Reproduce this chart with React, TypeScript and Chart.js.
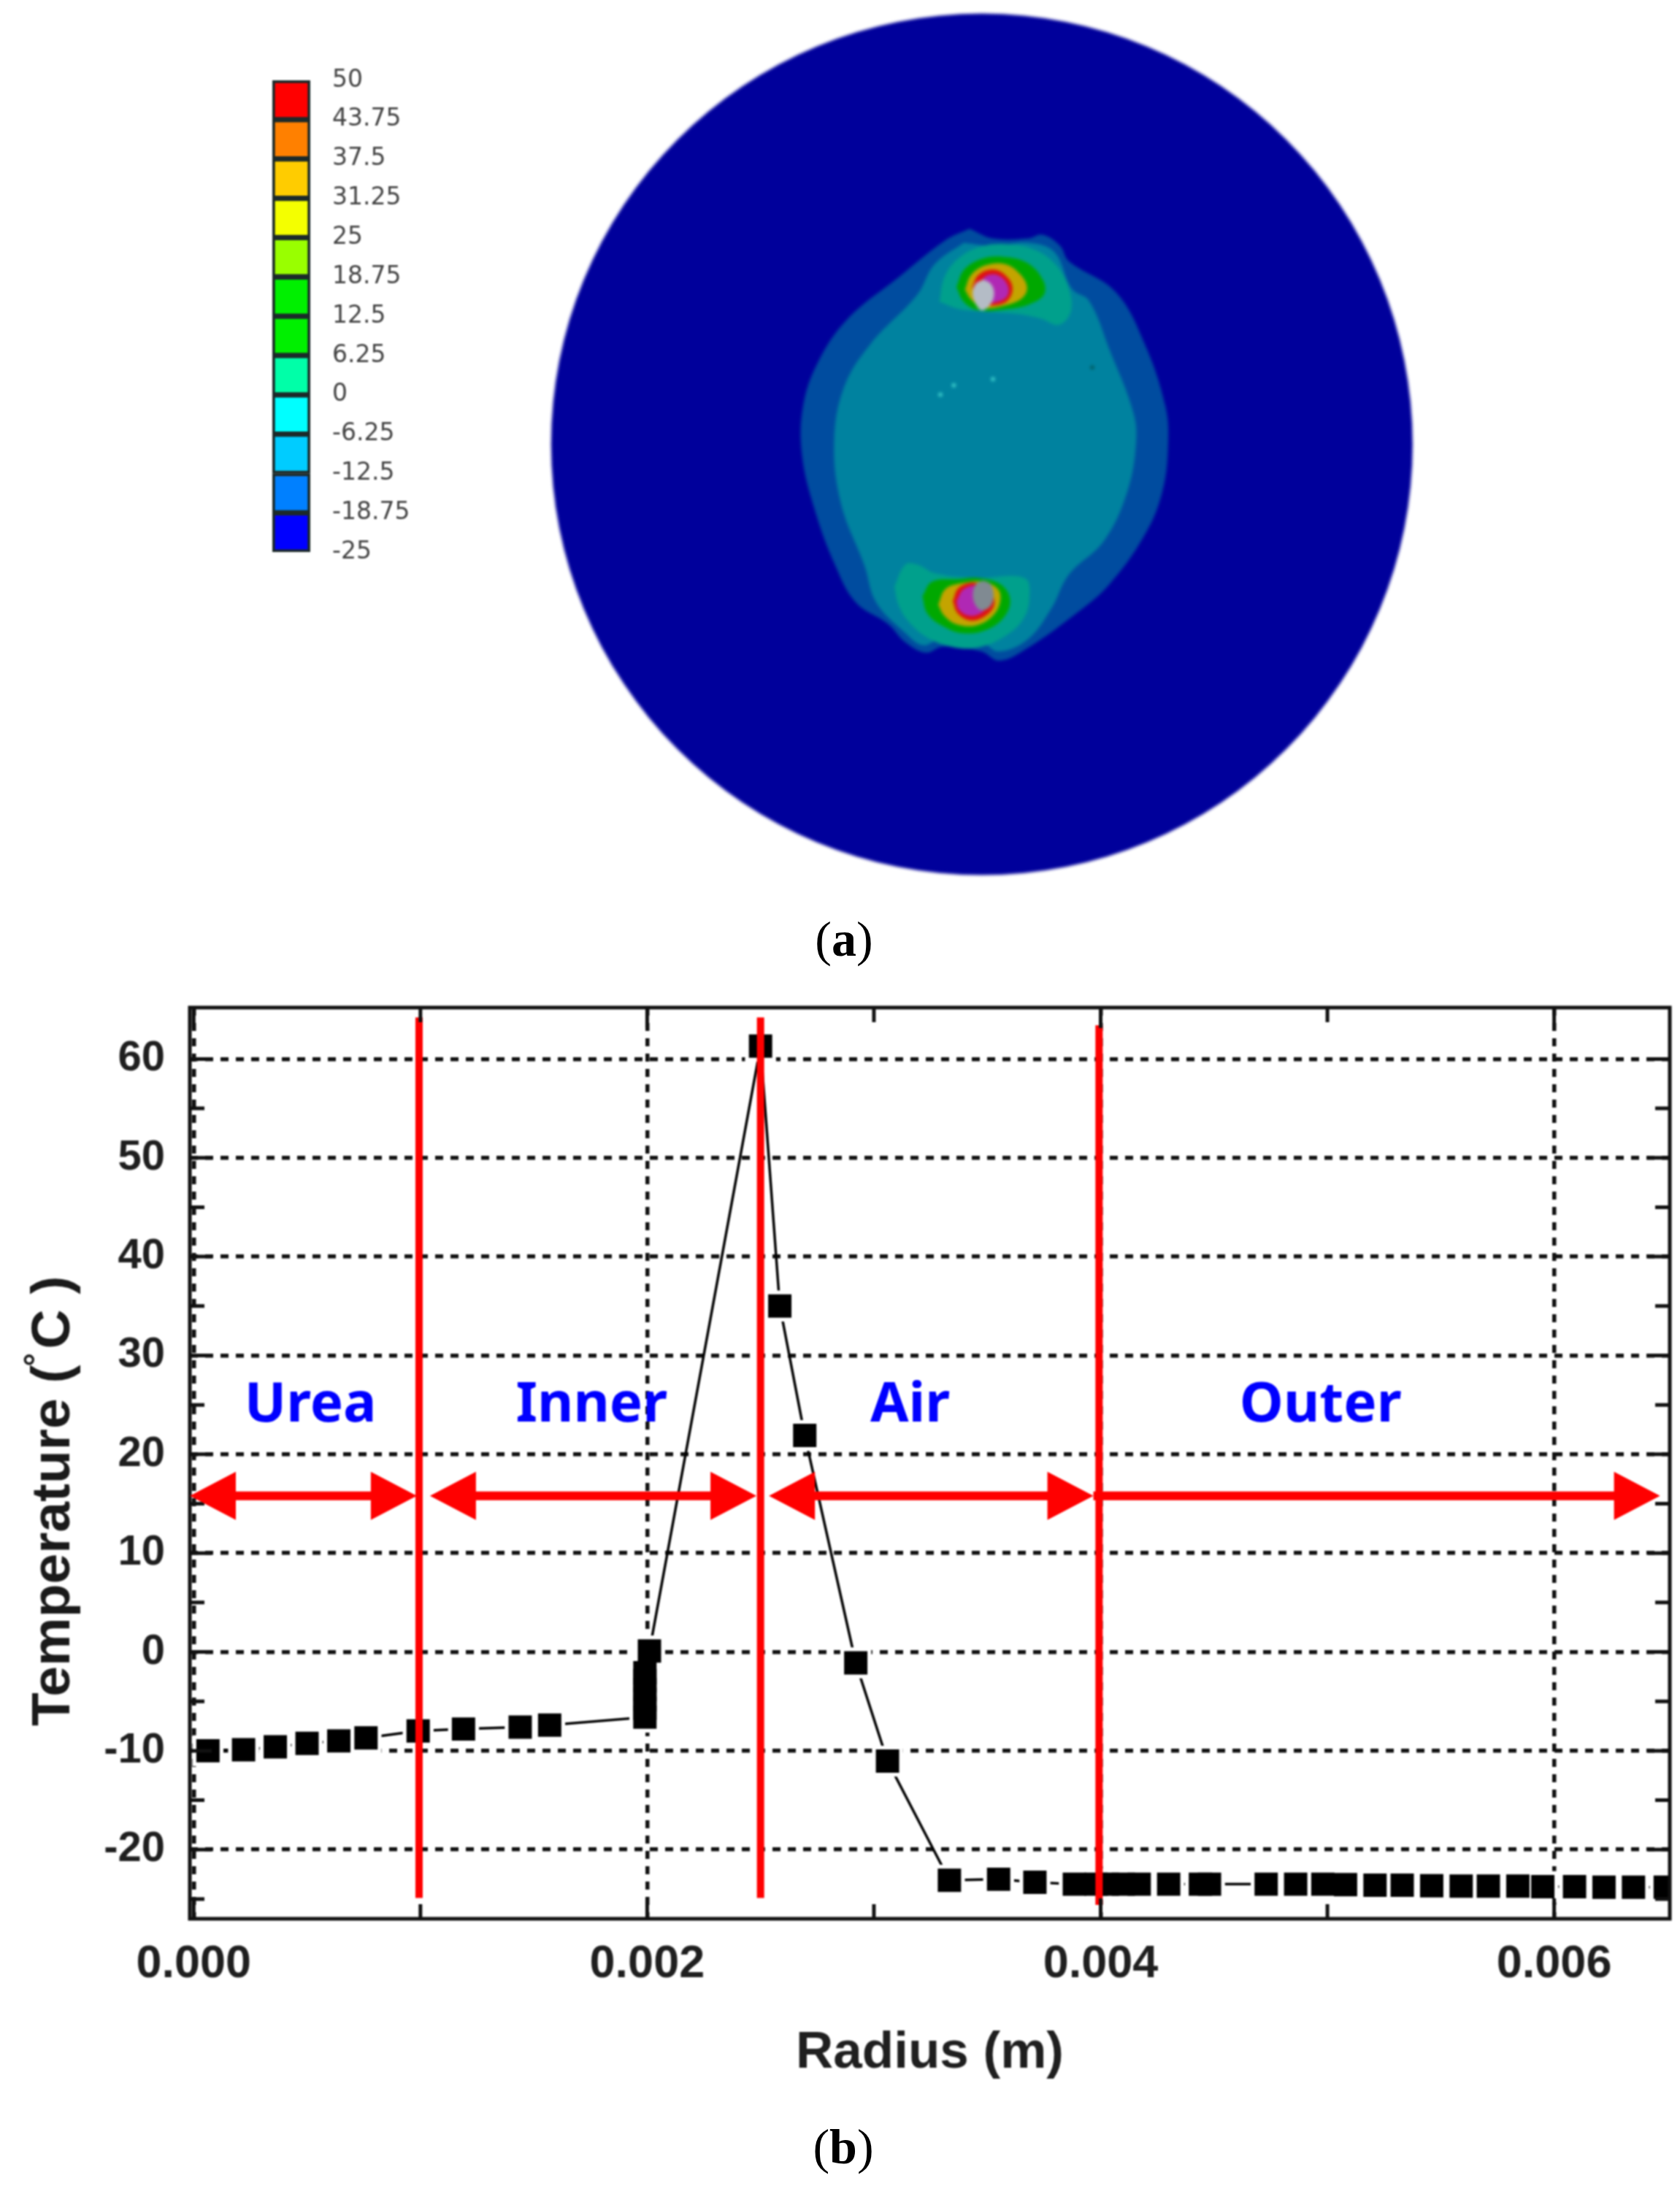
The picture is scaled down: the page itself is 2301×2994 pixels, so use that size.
import React, { useEffect, useRef } from "react";
import { Chart, registerables } from "chart.js";

Chart.register(...registerables);

// ---------- panel (b): temperature profile ----------
const radiusValues = [
  0.000063, 0.00022, 0.00036, 0.0005, 0.00064, 0.00076, 0.00099, 0.00119, 0.00144, 0.00157,
  0.00199, 0.00199, 0.00199, 0.00199, 0.00199, 0.00199, 0.00201, 0.0025, 0.002585, 0.002695,
  0.00292, 0.00306, 0.003333, 0.00355, 0.00371, 0.003884, 0.00398, 0.00403, 0.0041, 0.00417,
  0.0043, 0.00444, 0.00448, 0.00473, 0.00486, 0.00498, 0.00508, 0.00521, 0.00533, 0.00546,
  0.00559, 0.00571, 0.00584, 0.00595, 0.00609, 0.00622, 0.00635, 0.00649,
];
const temperatureValues = [
  -10, -9.9, -9.6, -9.25, -9, -8.7, -8, -7.8, -7.6, -7.4,
  -6.6, -5.7, -4.8, -3.8, -2.9, -2.1, 0.1, 61.3, 35, 21.9,
  -1.1, -11.05, -23.1, -23, -23.3, -23.5, -23.5, -23.5, -23.5, -23.5,
  -23.5, -23.5, -23.5, -23.5, -23.5, -23.5, -23.55, -23.6, -23.6, -23.65,
  -23.7, -23.7, -23.7, -23.75, -23.75, -23.8, -23.8, -23.8,
];
const xTickValues = [0, 0.001, 0.002, 0.003, 0.004, 0.005, 0.006];
const xLabelledTicks = [0, 0.002, 0.004, 0.006];
const yTickValues = [-25, -20, -15, -10, -5, 0, 5, 10, 15, 20, 25, 30, 35, 40, 45, 50, 55, 60];
const yLabelledTicks = [-20, -10, 0, 10, 20, 30, 40, 50, 60];
const regionNames = ["Urea", "Inner", "Air", "Outer"];
const regionNameX = [0.000515, 0.001755, 0.00316, 0.00497];
const regionNameY = 24.9;
const boundaryX = [0.000994, 0.0025, 0.003993];
const boundaryTop = [64.2, 64.2, 63.4];
const boundaryBottom = [-24.9, -24.9, -25.6];
const arrowStart = [-0.000017, 0.001042, 0.002537, 0.003968];
const arrowEnd = [0.000984, 0.002482, 0.003968, 0.006467];
const arrowHasLeftHead = [true, true, true, false];
const arrowY = 15.8;

// ---------- panel (a): legend ----------
const legendStops = [50, 43.75, 37.5, 31.25, 25, 18.75, 12.5, 6.25, 0, -6.25, -12.5, -18.75, -25];
const legendColors = [
  "#ff0000", "#ff8000", "#ffcc00", "#f4ff00", "#99ff00", "#00f000",
  "#00f000", "#00ffa8", "#00ffff", "#00ccff", "#0080ff", "#0000ff",
];

// ---------- panel (a): contour outlines ----------
const diskCentre = [781, 723];
const outerBand = [[760,372],[800,388],[860,388],[885,382],[915,400],[930,425],[1010,475],[1060,560],[1095,660],[1100,720],[1090,800],[1060,870],[1000,950],[940,1000],[850,1060],[810,1075],[780,1060],[715,1052],[685,1062],[650,1045],[620,1015],[565,980],[530,920],[495,830],[473,740],[475,660],[500,590],[550,520],[640,450],[720,390],[760,372]];
const innerCore = [[750,395],[800,400],[860,395],[905,410],[935,470],[965,490],[1000,570],[1040,670],[1045,720],[1030,800],[990,880],[930,935],[900,990],[860,1040],[810,1060],[780,1045],[710,1040],[680,1050],[650,1030],[600,980],[580,920],[540,820],[528,720],[545,630],[590,560],[670,480],[700,430],[750,395]];
const topTeal = [[320,400],[340,300],[400,220],[500,170],[620,165],[720,190],[800,250],[850,340],[860,440],[810,495],[740,470],[640,450],[500,440],[400,430],[320,400]];
const topGreen = [[390,340],[420,270],[490,225],[580,215],[680,240],[745,310],[750,370],[690,410],[600,430],[480,435],[420,400],[390,340]];
const topYellow = [[425,350],[450,290],[510,250],[590,245],[650,285],[680,340],[660,385],[590,415],[500,425],[450,390],[425,350]];
const topRed = [[455,340],[480,290],[540,268],[590,290],[620,340],[600,395],[540,415],[480,410],[455,340]];
const topMagenta = [[480,340],[510,295],[560,290],[600,330],[600,375],[560,400],[510,400],[480,340]];
const topGrey = [[500,308],[530,325],[545,365],[530,410],[495,435],[470,410],[456,365],[470,325],[500,308]];
const bottomTeal = [[135,190],[180,100],[230,100],[300,135],[470,155],[670,155],[690,240],[660,330],[580,400],[480,440],[380,440],[270,400],[190,330],[150,260],[135,190]];
const bottomGreen = [[250,230],[290,170],[400,160],[480,155],[570,180],[610,240],[590,310],[520,365],[420,382],[330,350],[270,300],[250,230]];
const bottomYellow = [[315,265],[345,200],[420,175],[500,170],[560,200],[570,250],[540,310],[470,350],[390,345],[340,310],[315,265]];
const bottomRed = [[375,250],[400,195],[470,175],[530,210],[545,265],[510,310],[450,330],[395,300],[375,250]];
const bottomMagenta = [[390,250],[420,200],[480,190],[510,270],[490,300],[440,310],[400,285],[390,250]];
const bottomGrey = [[500,165],[530,180],[543,225],[530,270],[495,288],[470,270],[457,225],[470,180],[500,165]];
const paleSpecks = [[710,642],[733,627],[800,617]];
const darkSpecks = [[970,598]];

const toXY = (pts: number[][]) => pts.map(([x, y]) => ({ x, y }));

function shape(pts: number[][], color: string, xAxisID: string, yAxisID: string) {
  return {
    data: toXY(pts),
    showLine: true,
    fill: "shape",
    tension: 0.38,
    backgroundColor: color,
    borderColor: color,
    borderWidth: 0,
    pointRadius: 0,
    xAxisID,
    yAxisID,
    clip: false,
  };
}

function hiddenAxis(min: number, max: number, reverse = false) {
  return { display: false, type: "linear", bounds: "data", min, max, reverse };
}

const frameAndNotes = {
  id: "frameAndNotes",
  afterDatasetsDraw(chart: any) {
    const { ctx, chartArea: a, scales } = chart;
    const x = scales.x;
    const y = scales.y;
    ctx.save();
    ctx.strokeStyle = "#111";
    ctx.lineWidth = 5;
    ctx.strokeRect(a.left, a.top, a.right - a.left, a.bottom - a.top);
    xTickValues.forEach((v) => {
      const p = x.getPixelForValue(v);
      const len = xLabelledTicks.includes(v) ? 28 : 20;
      ctx.beginPath();
      ctx.moveTo(p, a.bottom);
      ctx.lineTo(p, a.bottom - len);
      ctx.moveTo(p, a.top);
      ctx.lineTo(p, a.top + len);
      ctx.stroke();
    });
    yTickValues.forEach((v) => {
      const p = y.getPixelForValue(v);
      const len = yLabelledTicks.includes(v) ? 30 : 20;
      ctx.beginPath();
      ctx.moveTo(a.left, p);
      ctx.lineTo(a.left + len, p);
      ctx.moveTo(a.right, p);
      ctx.lineTo(a.right - len, p);
      ctx.stroke();
    });

    // range arrows
    const ay = y.getPixelForValue(arrowY);
    ctx.strokeStyle = "#ff0000";
    ctx.fillStyle = "#ff0000";
    ctx.lineWidth = 12;
    arrowStart.forEach((s, i) => {
      const x0 = x.getPixelForValue(s);
      const x1 = x.getPixelForValue(arrowEnd[i]);
      ctx.beginPath();
      ctx.moveTo(x0 + (arrowHasLeftHead[i] ? 30 : 0), ay);
      ctx.lineTo(x1 - 30, ay);
      ctx.stroke();
      ctx.beginPath();
      ctx.moveTo(x1, ay);
      ctx.lineTo(x1 - 63, ay - 33);
      ctx.lineTo(x1 - 63, ay + 33);
      ctx.closePath();
      ctx.fill();
      if (arrowHasLeftHead[i]) {
        ctx.beginPath();
        ctx.moveTo(x0, ay);
        ctx.lineTo(x0 + 63, ay - 33);
        ctx.lineTo(x0 + 63, ay + 33);
        ctx.closePath();
        ctx.fill();
      }
    });

    // region names
    ctx.fillStyle = "#0000ff";
    ctx.font = "700 76px 'Noto Sans'";
    ctx.textAlign = "center";
    ctx.textBaseline = "middle";
    regionNames.forEach((name, i) => {
      ctx.fillText(name, x.getPixelForValue(regionNameX[i]), y.getPixelForValue(regionNameY));
    });

    // y axis title with raised degree sign
    ctx.fillStyle = "#1a1a1a";
    ctx.textAlign = "left";
    ctx.textBaseline = "alphabetic";
    ctx.translate(95, 1064);
    ctx.rotate(-Math.PI / 2);
    let cursor = 0;
    ctx.font = "700 75px 'Liberation Sans'";
    ctx.fillText("Temperature (", cursor, 0);
    cursor += ctx.measureText("Temperature (").width;
    ctx.font = "700 46px 'Liberation Sans'";
    ctx.fillText("°", cursor - 2, -30);
    cursor += 22;
    ctx.font = "700 75px 'Liberation Sans'";
    ctx.fillText("C )", cursor, 0);
    ctx.restore();
  },
};

export default function App() {
  const heatRef = useRef<HTMLCanvasElement>(null);
  const legendRef = useRef<HTMLCanvasElement>(null);
  const lineRef = useRef<HTMLCanvasElement>(null);

  useEffect(() => {
    const xyData = radiusValues.map((x, i) => ({ x, y: temperatureValues[i] }));

    const heat = new Chart(heatRef.current as HTMLCanvasElement, {
      type: "scatter",
      data: {
        datasets: [
          { data: toXY(paleSpecks), pointRadius: 3, backgroundColor: "#38c8c8", borderWidth: 0, xAxisID: "x", yAxisID: "y" },
          { data: toXY(darkSpecks), pointRadius: 3, backgroundColor: "#006068", borderWidth: 0, xAxisID: "x", yAxisID: "y" },
          shape(topGrey, "#b4bcc6", "xTop", "yTop"),
          shape(topMagenta, "#b028b4", "xTop", "yTop"),
          shape(topRed, "#e01010", "xTop", "yTop"),
          shape(topYellow, "#c4a400", "xTop", "yTop"),
          shape(topGreen, "#00a800", "xTop", "yTop"),
          shape(topTeal, "#00a08c", "xTop", "yTop"),
          shape(bottomGrey, "#808a92", "xBottom", "yBottom"),
          shape(bottomMagenta, "#b028b4", "xBottom", "yBottom"),
          shape(bottomRed, "#e01010", "xBottom", "yBottom"),
          shape(bottomYellow, "#c4a400", "xBottom", "yBottom"),
          shape(bottomGreen, "#00a800", "xBottom", "yBottom"),
          shape(bottomTeal, "#00a08c", "xBottom", "yBottom"),
          shape(innerCore, "#00829f", "x", "y"),
          shape(outerBand, "#004c9f", "x", "y"),
          {
            data: [{ x: diskCentre[0], y: diskCentre[1] }],
            pointRadius: 590,
            backgroundColor: "#00009b",
            borderWidth: 0,
            xAxisID: "x",
            yAxisID: "y",
            clip: false,
          },
        ],
      } as any,
      options: {
        responsive: false,
        devicePixelRatio: 1,
        animation: false,
        events: [],
        layout: { padding: 0, autoPadding: false },
        plugins: { legend: { display: false }, tooltip: { enabled: false } },
        scales: {
          x: hiddenAxis(-900, 1976.25),
          y: hiddenAxis(0, 1485, true),
          xTop: hiddenAxis(-3540, 3363),
          yTop: hiddenAxis(-840, 2910, true),
          xBottom: hiddenAxis(-3540, 3363),
          yBottom: hiddenAxis(-2220, 1530, true),
        },
      } as any,
    });

    const legend = new Chart(legendRef.current as HTMLCanvasElement, {
      type: "bar",
      data: {
        labels: ["scale"],
        datasets: legendColors.map((color, i) => ({
          data: [[legendStops[i + 1], legendStops[i]]],
          backgroundColor: color,
          borderColor: "#1c2a2a",
          borderWidth: 4,
          borderSkipped: false,
          grouped: false,
          barPercentage: 1,
          categoryPercentage: 1,
        })),
      } as any,
      options: {
        responsive: false,
        devicePixelRatio: 1,
        animation: false,
        events: [],
        layout: { padding: { left: 33, top: 50, bottom: 25, right: 0 }, autoPadding: false },
        plugins: { legend: { display: false }, tooltip: { enabled: false } },
        scales: {
          x: { display: false },
          y: {
            position: "right",
            min: -25,
            max: 50,
            afterFit: (s: any) => {
              s.width = 175;
            },
            afterBuildTicks: (s: any) => {
              s.ticks = legendStops.map((value) => ({ value }));
            },
            grid: { display: false, drawTicks: false },
            border: { display: false },
            ticks: {
              autoSkip: false,
              padding: 30,
              color: "#444444",
              font: { family: "'DejaVu Sans'", size: 33 },
              callback: (v: any) => String(v),
            },
          },
        },
      } as any,
    });

    const line = new Chart(lineRef.current as HTMLCanvasElement, {
      type: "scatter",
      data: {
        datasets: [
          ...boundaryX.map((bx, i) => ({
            data: [
              { x: bx, y: boundaryTop[i] },
              { x: bx, y: boundaryBottom[i] },
            ],
            showLine: true,
            borderColor: "#ff0000",
            borderWidth: 10,
            pointRadius: 0,
          })),
          { data: xyData, pointStyle: "rect", pointRadius: 22.6, backgroundColor: "#000", borderWidth: 0 },
          { data: xyData, pointStyle: "rect", pointRadius: 30, backgroundColor: "#fff", borderWidth: 0 },
          { data: xyData, showLine: true, borderColor: "#000", borderWidth: 3.5, pointRadius: 0 },
        ],
      } as any,
      options: {
        responsive: false,
        devicePixelRatio: 1,
        animation: false,
        events: [],
        layout: { padding: { left: 0, top: 80, right: 14, bottom: 0 }, autoPadding: false },
        plugins: { legend: { display: false }, tooltip: { enabled: false } },
        scales: {
          x: {
            type: "linear",
            min: -0.000017,
            max: 0.00651,
            afterFit: (s: any) => {
              s.height = 366;
            },
            afterBuildTicks: (s: any) => {
              s.ticks = xTickValues.map((value) => ({ value }));
            },
            grid: {
              drawTicks: false,
              lineWidth: 5.5,
              color: (c: any) => (c.tick && xLabelledTicks.includes(c.tick.value) ? "#111" : "rgba(0,0,0,0)"),
            },
            border: { display: false, dash: [11, 10] },
            ticks: {
              autoSkip: false,
              maxRotation: 0,
              padding: 25,
              color: "#1f1f1f",
              font: { family: "'Liberation Sans'", weight: "700", size: 63 },
              callback: (v: any) => (xLabelledTicks.includes(v) ? Number(v).toFixed(3) : ""),
            },
            title: {
              display: true,
              text: "Radius (m)",
              color: "#1f1f1f",
              font: { family: "'Liberation Sans'", weight: "700", size: 71 },
              padding: { top: 0, bottom: 139 },
            },
          },
          y: {
            type: "linear",
            min: -27,
            max: 65.2,
            afterFit: (s: any) => {
              s.width = 260;
            },
            afterBuildTicks: (s: any) => {
              s.ticks = yTickValues.map((value) => ({ value }));
            },
            grid: {
              drawTicks: false,
              lineWidth: 5.5,
              color: (c: any) => (c.tick && yLabelledTicks.includes(c.tick.value) ? "#111" : "rgba(0,0,0,0)"),
            },
            border: { display: false, dash: [11, 10] },
            ticks: {
              autoSkip: false,
              padding: 34,
              color: "#1f1f1f",
              font: { family: "'Liberation Sans'", weight: "700", size: 58 },
              callback: (v: any) => (yLabelledTicks.includes(v) ? String(v) : ""),
            },
          },
        },
      } as any,
      plugins: [frameAndNotes],
    });

    return () => {
      heat.destroy();
      legend.destroy();
      line.destroy();
    };
  }, []);

  const caption: React.CSSProperties = {
    position: "absolute",
    transform: "translate(-50%, -50%)",
    fontFamily: "'Liberation Serif'",
    fontSize: 68,
    lineHeight: 1,
    color: "#000",
    whiteSpace: "nowrap",
  };

  return (
    <div style={{ position: "absolute", left: 0, top: 0, width: 2301, height: 2994, background: "#fff", overflow: "hidden" }}>
      <canvas
        ref={heatRef}
        width={2301}
        height={1250}
        style={{ position: "absolute", left: 0, top: 0, filter: "blur(2px)" }}
      />
      <canvas
        ref={legendRef}
        width={260}
        height={746}
        style={{ position: "absolute", left: 340, top: 60, filter: "blur(1px)" }}
      />
      <canvas
        ref={lineRef}
        width={2301}
        height={1694}
        style={{ position: "absolute", left: 0, top: 1300, filter: "blur(0.8px)" }}
      />
      <div style={{ ...caption, left: 1156, top: 1286 }}>
        (<b>a</b>)
      </div>
      <div style={{ ...caption, left: 1155, top: 2940 }}>
        (<b>b</b>)
      </div>
    </div>
  );
}
